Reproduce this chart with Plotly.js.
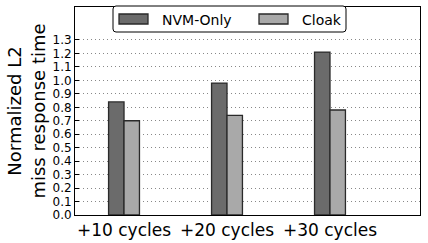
<!DOCTYPE html>
<html>
<head>
<meta charset="utf-8">
<script src="https://cdn.plot.ly/plotly-3.0.1.min.js"></script>
<style>html,body{margin:0;padding:0;background:#fff;}#chart{width:428px;height:243px;}</style>
</head>
<body>
<div id="chart"></div>
<script>
const categories = ["+10 cycles", "+20 cycles", "+30 cycles"];
const seriesNames = ["NVM-Only", "Cloak"];
const nvmOnly = [0.84, 0.98, 1.21];
const cloak = [0.70, 0.74, 0.78];
const yTickVals = [0.0,0.1,0.2,0.3,0.4,0.5,0.6,0.7,0.8,0.9,1.0,1.1,1.2,1.3];
const yTickText = ["0.0","0.1","0.2","0.3","0.4","0.5","0.6","0.7","0.8","0.9","1.0","1.1","1.2","1.3"];

const colors = ["#6b6b6b", "#a9a9a9"];
const edge = "#2a2a2a";
const font = "DejaVu Sans, sans-serif";

const W = 428, H = 243;
const M = {l:75, r:8, t:7, b:28};
const pw = W - M.l - M.r, ph = H - M.t - M.b;
// pixel -> paper helpers for the legend box
const px = v => (v - M.l) / pw;
const py = v => (H - M.b - v) / ph;

const traces = [
  {type:"bar", name:seriesNames[0], x:categories, y:nvmOnly,
   marker:{color:colors[0], line:{color:edge, width:1.3}}},
  {type:"bar", name:seriesNames[1], x:categories, y:cloak,
   marker:{color:colors[1], line:{color:edge, width:1.3}}}
];

// legend drawn in matplotlib style (rounded frame, wide swatches)
const L = {x0:113, x1:346, y0:6, y1:32, r:3};
const rx = L.r / pw, ry = L.r / ph;
const X0 = px(L.x0), X1 = px(L.x1), Y0 = py(L.y1), Y1 = py(L.y0);
const framePath = `M ${X0+rx},${Y0} L ${X1-rx},${Y0} Q ${X1},${Y0} ${X1},${Y0+ry} L ${X1},${Y1-ry} Q ${X1},${Y1} ${X1-rx},${Y1} L ${X0+rx},${Y1} Q ${X0},${Y1} ${X0},${Y1-ry} L ${X0},${Y0+ry} Q ${X0},${Y0} ${X0+rx},${Y0} Z`;
const swatchX = [119, 259];
const textX = [160, 300];
const shapes = [{type:"path", xref:"paper", yref:"paper", path:framePath,
  fillcolor:"#fff", line:{color:"#000", width:1}, layer:"above"}];
const annotations = [];
seriesNames.forEach((n, i) => {
  shapes.push({type:"rect", xref:"paper", yref:"paper",
    x0:px(swatchX[i]), x1:px(swatchX[i]+29), y0:py(24), y1:py(14),
    fillcolor:colors[i], line:{color:edge, width:1.3}, layer:"above"});
  annotations.push({xref:"paper", yref:"paper", x:px(textX[i]), y:py(19.5),
    xanchor:"left", yanchor:"middle", text:n, showarrow:false,
    font:{size:14, family:font, color:"#000"}});
});

const layout = {
  width:W, height:H,
  margin:{l:M.l, r:M.r, t:M.t, b:M.b, pad:0},
  paper_bgcolor:"#fff", plot_bgcolor:"#fff",
  font:{family:font, color:"#000"},
  barmode:"group", bargap:0.7, bargroupgap:0,
  showlegend:false,
  shapes:shapes, annotations:annotations,
  xaxis:{type:"category", range:[-0.476, 2.874], showgrid:false,
    tickfont:{size:17, family:font}, ticks:"", showline:true, mirror:true,
    linecolor:"#000", linewidth:1, zeroline:false},
  yaxis:{range:[0, 1.545], tickvals:yTickVals, ticktext:yTickText,
    tickfont:{size:12, family:font}, ticks:"inside", ticklen:4, tickcolor:"#000",
    showgrid:true, gridcolor:"#888", griddash:"1px,3px", gridwidth:1,
    showline:true, mirror:true, linecolor:"#000", linewidth:1, zeroline:false,
    title:{text:"Normalized L2<br>miss response time", font:{size:18, family:font}, standoff:2}}
};
Plotly.newPlot("chart", traces, layout, {displayModeBar:false, staticPlot:true});
</script>
</body>
</html>
